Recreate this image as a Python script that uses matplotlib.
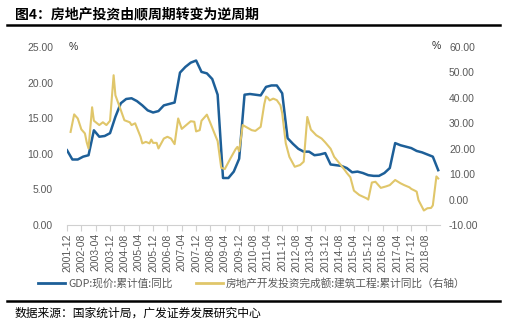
import matplotlib
matplotlib.use('Agg')
import matplotlib.pyplot as plt
from matplotlib.lines import Line2D
import pandas as pd

# month axis, 2001-12 .. 2019-03
months = pd.period_range('2001-12', '2019-03', freq='M').strftime('%Y-%m').tolist()

# GDP: current price, cumulative yoy (%), quarterly
gdp_months = ['2001-12',
              '2002-03', '2002-06', '2002-09', '2002-12',
              '2003-03', '2003-06', '2003-09', '2003-12',
              '2004-03', '2004-06', '2004-09', '2004-12',
              '2005-03', '2005-06', '2005-09', '2005-12',
              '2006-03', '2006-06', '2006-09', '2006-12',
              '2007-03', '2007-06', '2007-09', '2007-12',
              '2008-03', '2008-06', '2008-09', '2008-12',
              '2009-03', '2009-06', '2009-09', '2009-12',
              '2010-03', '2010-06', '2010-09', '2010-12',
              '2011-03', '2011-06', '2011-09', '2011-12',
              '2012-03', '2012-06', '2012-09', '2012-12',
              '2013-03', '2013-06', '2013-09', '2013-12',
              '2014-03', '2014-06', '2014-09', '2014-12',
              '2015-03', '2015-06', '2015-09', '2015-12',
              '2016-03', '2016-06', '2016-09', '2016-12',
              '2017-03', '2017-06', '2017-09', '2017-12',
              '2018-03', '2018-06', '2018-09', '2018-12',
              '2019-03']
gdp_yoy = [10.5,
           9.2, 9.2, 9.6, 9.8,
           13.3, 12.4, 12.5, 12.9,
           15.2, 17.1, 17.7, 17.8,
           17.4, 16.8, 16.1, 15.8,
           16.0, 16.8, 17.0, 17.2,
           21.4, 22.2, 22.8, 23.1,
           21.5, 21.3, 20.5, 18.3,
           6.6, 6.6, 7.5, 9.3,
           18.3, 18.4, 18.3, 18.2,
           19.4, 19.6, 19.6, 18.5,
           12.2, 11.4, 10.7, 10.3,
           10.3, 9.8, 9.9, 10.1,
           8.5, 8.4, 8.3, 8.0,
           7.4, 7.5, 7.3, 7.0,
           6.9, 6.9, 7.3, 8.0,
           11.5, 11.2, 11.0, 10.8,
           10.4, 10.2, 9.9, 9.6,
           7.7]

# real estate development investment, construction works, cumulative yoy (%)
inv_months = ['2002-02', '2002-04', '2002-06', '2002-08', '2002-10', '2002-11', '2002-12',
              '2003-02', '2003-03', '2003-06', '2003-08', '2003-10', '2003-12',
              '2004-02', '2004-03', '2004-06', '2004-08', '2004-11', '2004-12',
              '2005-02', '2005-05', '2005-06', '2005-08', '2005-10', '2005-11', '2005-12',
              '2006-02', '2006-03', '2006-06', '2006-08', '2006-10', '2006-12',
              '2007-02', '2007-04', '2007-06', '2007-09', '2007-11', '2007-12',
              '2008-02', '2008-03', '2008-06', '2008-08', '2008-11', '2008-12',
              '2009-02', '2009-04', '2009-07', '2009-10', '2009-11', '2009-12',
              '2010-02', '2010-04', '2010-07', '2010-09', '2010-12',
              '2011-02', '2011-03', '2011-04', '2011-05', '2011-07', '2011-09', '2011-11', '2011-12',
              '2012-02', '2012-04', '2012-07', '2012-10', '2012-12',
              '2013-02', '2013-04', '2013-07', '2013-10', '2013-12',
              '2014-03', '2014-05', '2014-08', '2014-11', '2014-12',
              '2015-02', '2015-04', '2015-07', '2015-11', '2015-12',
              '2016-02', '2016-04', '2016-07', '2016-10', '2016-12',
              '2017-03', '2017-06', '2017-08', '2017-11', '2017-12',
              '2018-02', '2018-03', '2018-04', '2018-07', '2018-09', '2018-11', '2018-12',
              '2019-02', '2019-03']
inv_yoy = [26.6, 33.5, 31.9, 27.6, 26.0, 22.5, 20.1,
           36.3, 31.0, 29.3, 30.4, 29.3, 31.0,
           48.9, 41.0, 35.2, 31.2, 30.4, 29.3,
           30.0, 24.7, 22.1, 22.7, 22.1, 23.6, 22.3,
           22.3, 20.1, 24.0, 24.7, 24.0, 21.8,
           31.9, 27.8, 29.0, 30.8, 30.6, 26.8,
           27.3, 31.0, 33.4, 30.0, 24.7, 23.0,
           12.5, 12.0, 16.0, 19.8, 20.7, 19.0,
           29.3, 28.5, 27.3, 27.0, 28.6,
           37.5, 40.5, 40.0, 39.0, 39.7, 39.1, 37.1, 34.0,
           22.1, 16.8, 12.9, 13.6, 14.9,
           32.5, 27.5, 25.3, 24.0, 22.5,
           20.0, 16.8, 14.2, 11.5, 10.5,
           8.8, 3.5, 1.8, 0.5, 0.0,
           6.7, 7.0, 4.6, 5.2, 5.7,
           7.7, 6.4, 5.7, 4.8, 4.2,
           3.5, 3.1, -0.2, -4.3, -3.4, -3.3, -2.3,
           9.1, 8.3]

gdp_label = 'GDP:现价:累计值:同比'
inv_label = '房地产开发投资完成额:建筑工程:累计同比（右轴）'

blue = '#1d5f98'
gold = '#e0c66a'
grey = '#595959'
cjk = ['Noto Sans CJK SC', 'DejaVu Sans']
latin = ['Liberation Sans', 'DejaVu Sans']

idx = {m: i for i, m in enumerate(months)}
gdp_x = [idx[m] for m in gdp_months]
inv_x = [idx[m] for m in inv_months]

fig = plt.figure(figsize=(5.12, 3.26), dpi=100)
ax = fig.add_axes([67 / 512, 1 - 225 / 326, (440 - 67) / 512, 178 / 326])
ax2 = ax.twinx()

ax.plot(gdp_x, gdp_yoy, color=blue, lw=1.8, solid_joinstyle='round')
ax2.plot(inv_x, inv_yoy, color=gold, lw=1.5, solid_joinstyle='round')

ax.set_xlim(0, 208)
ax.set_ylim(0, 25)
ax2.set_ylim(-10, 60)
ax.set_yticks(range(0, 26, 5))
ax.set_yticklabels(['%.2f' % v for v in range(0, 26, 5)])
ax2.set_yticks(range(-10, 61, 10))
ax2.set_yticklabels(['%.2f' % v for v in range(-10, 61, 10)])

tick_pos = list(range(0, len(months), 8))
ax.set_xticks(tick_pos)
ax.set_xticklabels([months[i] for i in tick_pos], rotation=90)

for a in (ax, ax2):
    for s in a.spines.values():
        s.set_visible(False)
ax.spines['bottom'].set_visible(True)
ax.spines['bottom'].set_color('#d0d0d0')
ax.spines['bottom'].set_linewidth(0.8)

ax.tick_params(axis='x', length=4, width=0.8, color='#d0d0d0', pad=2,
               labelsize=7.5, labelcolor=grey)
ax.tick_params(axis='y', length=0, pad=10, labelsize=7.5, labelcolor=grey)
ax2.tick_params(axis='y', length=0, pad=6.5, labelsize=7.5, labelcolor=grey)
for lab in ax.get_xticklabels() + ax.get_yticklabels() + ax2.get_yticklabels():
    lab.set_family(latin)

fig.text(69 / 512, 1 - 47 / 326, '%', fontsize=7.5, color='#333333',
         va='center', ha='left', family=latin)
fig.text(436 / 512, 1 - 46 / 326, '%', fontsize=7.5, color='#333333',
         va='center', ha='center', family=latin)

# title and rules
fig.text(15 / 512, 1 - 14 / 326, '图4：房地产投资由顺周期转变为逆周期',
         fontsize=10, fontweight='bold', va='center', ha='left', family=cjk)
fig.add_artist(Line2D([7 / 512, 500 / 512], [1 - 25 / 326] * 2, color='black', lw=1.8))
fig.add_artist(Line2D([7 / 512, 500 / 512], [1 - 301 / 326] * 2, color='black', lw=1.8))
fig.text(15 / 512, 1 - 313 / 326, '数据来源：国家统计局，广发证券发展研究中心',
         fontsize=8.5, va='center', ha='left', family=cjk)

handles = [Line2D([], [], color=blue, lw=2), Line2D([], [], color=gold, lw=2)]
leg = fig.legend(handles, [gdp_label, inv_label], loc='center left',
                 bbox_to_anchor=(38 / 512, 1 - 283 / 326), ncol=2, frameon=False,
                 handlelength=2.5, handletextpad=0.3, columnspacing=2.2,
                 borderpad=0, borderaxespad=0,
                 prop={'family': cjk, 'size': 7.7})
for t in leg.get_texts():
    t.set_color(grey)

fig.savefig('out.png', dpi=100)
